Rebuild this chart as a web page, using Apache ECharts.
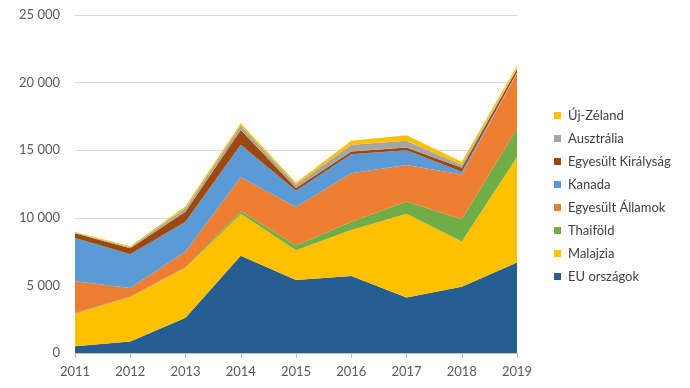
<!DOCTYPE html>
<html>
<head>
<meta charset="utf-8">
<script src="https://cdn.jsdelivr.net/npm/echarts@6/dist/echarts.min.js"></script>
<style>
html,body{margin:0;padding:0;background:#fff;}
#c{width:690px;height:388px;}
</style>
</head>
<body>
<div id="c"></div>
<script>
const years = ['2011','2012','2013','2014','2015','2016','2017','2018','2019'];
const seriesNames = ['EU országok','Malajzia','Thaiföld','Egyesült Államok','Kanada','Egyesült Királyság','Ausztrália','Új-Zéland'];
const euValues        = [500, 850, 2600, 7200, 5400, 5700, 4100, 4900, 6700];
const malajziaValues  = [2400, 3300, 3700, 3100, 2200, 3400, 6200, 3350, 7800];
const thaifoldValues  = [50, 30, 50, 200, 350, 600, 900, 1650, 2100];
const usaValues       = [2350, 620, 1150, 2500, 2850, 3600, 2700, 3300, 4100];
const kanadaValues    = [3200, 2500, 2200, 2400, 1200, 1400, 1100, 200, 50];
const ukValues        = [350, 450, 750, 1100, 200, 200, 200, 300, 250];
const ausztraliaValues= [50, 80, 250, 300, 250, 500, 500, 200, 100];
const ujzelandValues  = [50, 70, 150, 200, 150, 300, 400, 250, 150];
const yTicks = [0, 5000, 10000, 15000, 20000, 25000];

const allValues = [euValues, malajziaValues, thaifoldValues, usaValues, kanadaValues, ukValues, ausztraliaValues, ujzelandValues];
const colors = ['#255E91','#FFC000','#70AD47','#ED7D31','#5B9BD5','#9E480E','#A5A5A5','#FFC000'];

const chart = echarts.init(document.getElementById('c'));
chart.setOption({
  animation: false,
  textStyle: { fontFamily: 'Lato, "Open Sans", sans-serif' },
  grid: { left: 75, right: 173, top: 15, bottom: 35, containLabel: false },
  legend: {
    orient: 'vertical',
    left: 549,
    top: 104,
    itemWidth: 7,
    itemHeight: 7,
    itemGap: 10,
    icon: 'rect',
    data: seriesNames.slice().reverse(),
    textStyle: { fontSize: 13, color: '#404040', padding: [0, 0, 0, 2] }
  },
  xAxis: {
    type: 'category',
    data: years,
    boundaryGap: false,
    axisLine: { lineStyle: { color: '#BFBFBF' } },
    axisTick: { show: true, length: 5, lineStyle: { color: '#BFBFBF' } },
    axisLabel: { fontSize: 13, color: '#595959', margin: 12 }
  },
  yAxis: {
    type: 'value',
    min: yTicks[0],
    max: yTicks[yTicks.length - 1],
    interval: 5000,
    axisLine: { show: false },
    axisTick: { show: false },
    splitLine: { lineStyle: { color: '#D9D9D9' } },
    axisLabel: {
      fontSize: 13, color: '#595959', margin: 15,
      formatter: v => String(v).replace(/\B(?=(\d{3})+(?!\d))/g, ' ')
    }
  },
  series: seriesNames.map((n, i) => ({
    name: n,
    type: 'line',
    stack: 'total',
    data: allValues[i],
    symbol: 'none',
    lineStyle: { width: 0 },
    itemStyle: { color: colors[i] },
    areaStyle: { color: colors[i], opacity: 1 }
  }))
});
</script>
</body>
</html>
